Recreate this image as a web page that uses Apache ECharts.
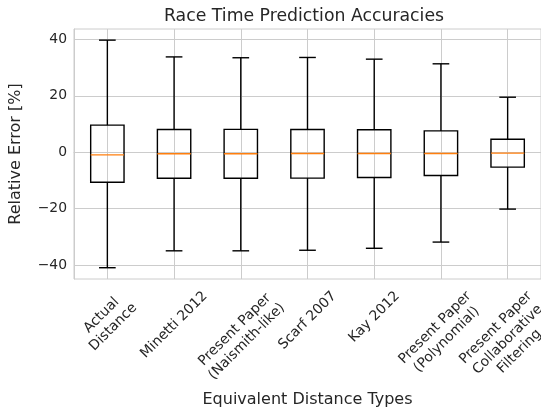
<!DOCTYPE html>
<html>
<head>
<meta charset="utf-8">
<script src="https://cdn.jsdelivr.net/npm/echarts@6/dist/echarts.min.js"></script>
<style>
html,body{margin:0;padding:0;background:#fff;}
#chart{width:541px;height:414px;}
</style>
</head>
<body>
<div id="chart"></div>
<script>
const categories = [
  "Actual\nDistance",
  "Minetti 2012",
  "Present Paper\n(Naismith-like)",
  "Scarf 2007",
  "Kay 2012",
  "Present Paper\n(Polynomial)",
  "Present Paper\nCollaborative\nFiltering"
];
const lowerWhisker = [-41.0, -35.0, -35.0, -34.8, -34.1, -31.9, -20.2];
const q1Values     = [-10.65, -9.23, -9.23, -9.2, -9.0, -8.3, -5.3];
const medians      = [-0.95, -0.55, -0.55, -0.47, -0.47, -0.47, -0.35];
const q3Values     = [9.6, 8.05, 8.1, 8.05, 7.95, 7.55, 4.6];
const upperWhisker = [39.75, 33.8, 33.5, 33.6, 33.0, 31.35, 19.5];
const yTicks = [-40, -20, 0, 20, 40];
const yMin = -45.0, yMax = 43.7;

const textColor = '#262626';
const tickSize = 13.9;
const tickFont = tickSize + 'px "DejaVu Sans"';
const measureCtx = document.createElement('canvas').getContext('2d');
measureCtx.font = tickFont;
const lineH = tickSize * 1.2;

const data = categories.map((c, i) => [i + 1, lowerWhisker[i], q1Values[i], medians[i], q3Values[i], upperWhisker[i]]);

const chart = echarts.init(document.getElementById('chart'), null, {renderer: 'canvas'});

function renderItem(params, api) {
  const x = api.value(0);
  const lo = api.value(1), q1 = api.value(2), med = api.value(3), q3 = api.value(4), hi = api.value(5);
  const unit = api.size([1, 0])[0];
  const halfBox = unit * 0.25;
  const halfCap = unit * 0.125;
  const pLo = api.coord([x, lo]);
  const pQ1 = api.coord([x, q1]);
  const pMed = api.coord([x, med]);
  const pQ3 = api.coord([x, q3]);
  const pHi = api.coord([x, hi]);
  const pBottom = api.coord([x, yMin]);
  const cx = pLo[0];
  const lineStyle = {stroke: '#000', lineWidth: 1.4, fill: null};
  const label = categories[params.dataIndex];
  const lines = label.split('\n');
  let w = 0;
  lines.forEach(l => { w = Math.max(w, measureCtx.measureText(l).width); });
  const h = lines.length * lineH;
  const bboxH = (w + h) / Math.SQRT2;
  const labelCY = pBottom[1] + 9 + bboxH / 2;
  return {
    type: 'group',
    children: [
      {type: 'line', shape: {x1: cx, y1: pQ3[1], x2: cx, y2: pHi[1]}, style: lineStyle},
      {type: 'line', shape: {x1: cx, y1: pQ1[1], x2: cx, y2: pLo[1]}, style: lineStyle},
      {type: 'line', shape: {x1: cx - halfCap, y1: pHi[1], x2: cx + halfCap, y2: pHi[1]}, style: lineStyle},
      {type: 'line', shape: {x1: cx - halfCap, y1: pLo[1], x2: cx + halfCap, y2: pLo[1]}, style: lineStyle},
      {type: 'rect', shape: {x: cx - halfBox, y: pQ3[1], width: halfBox * 2, height: pQ1[1] - pQ3[1]}, style: lineStyle},
      {type: 'line', shape: {x1: cx - halfBox, y1: pMed[1], x2: cx + halfBox, y2: pMed[1]}, style: {stroke: '#ff7f0e', lineWidth: 1.4}},
      {type: 'text', x: cx, y: labelCY, rotation: Math.PI / 4,
       style: {text: label, font: tickFont, fill: textColor, align: 'center', verticalAlign: 'middle', lineHeight: lineH}}
    ]
  };
}

chart.setOption({
  animation: false,
  backgroundColor: '#fff',
  title: {
    text: 'Race Time Prediction Accuracies',
    left: 299, top: 3, textAlign: 'center',
    textStyle: {fontFamily: 'DejaVu Sans', fontSize: 17.3, fontWeight: 'normal', color: textColor}
  },
  grid: {left: 68, top: 29, width: 474, height: 250, show: true, borderColor: '#cccccc', borderWidth: 1, containLabel: false},
  xAxis: {
    type: 'value', min: 0.5, max: 7.5,
    name: 'Equivalent Distance Types', nameLocation: 'middle', nameGap: 113,
    nameTextStyle: {fontFamily: 'DejaVu Sans', fontSize: 16, color: textColor},
    axisLine: {show: true, lineStyle: {color: '#cccccc', width: 1}},
    axisTick: {show: false, customValues: [1, 2, 3, 4, 5, 6, 7]},
    axisLabel: {show: false, customValues: [1, 2, 3, 4, 5, 6, 7]},
    splitLine: {show: true, lineStyle: {color: '#cccccc', width: 1}}
  },
  yAxis: {
    type: 'value', min: yMin, max: yMax,
    name: 'Relative Error [%]', nameLocation: 'middle', nameGap: 50,
    nameTextStyle: {fontFamily: 'DejaVu Sans', fontSize: 16, color: textColor},
    axisLine: {show: true, lineStyle: {color: '#cccccc', width: 1}},
    axisTick: {show: false, customValues: yTicks},
    axisLabel: {customValues: yTicks, margin: 7, fontFamily: 'DejaVu Sans', fontSize: tickSize, color: textColor,
      formatter: v => String(v).replace('-', '\u2212')},
    splitLine: {show: true, lineStyle: {color: '#cccccc', width: 1}}
  },
  series: [{
    type: 'custom',
    renderItem: renderItem,
    clip: false,
    encode: {x: 0, y: [1, 2, 3, 4, 5]},
    data: data
  }]
});
</script>
</body>
</html>
